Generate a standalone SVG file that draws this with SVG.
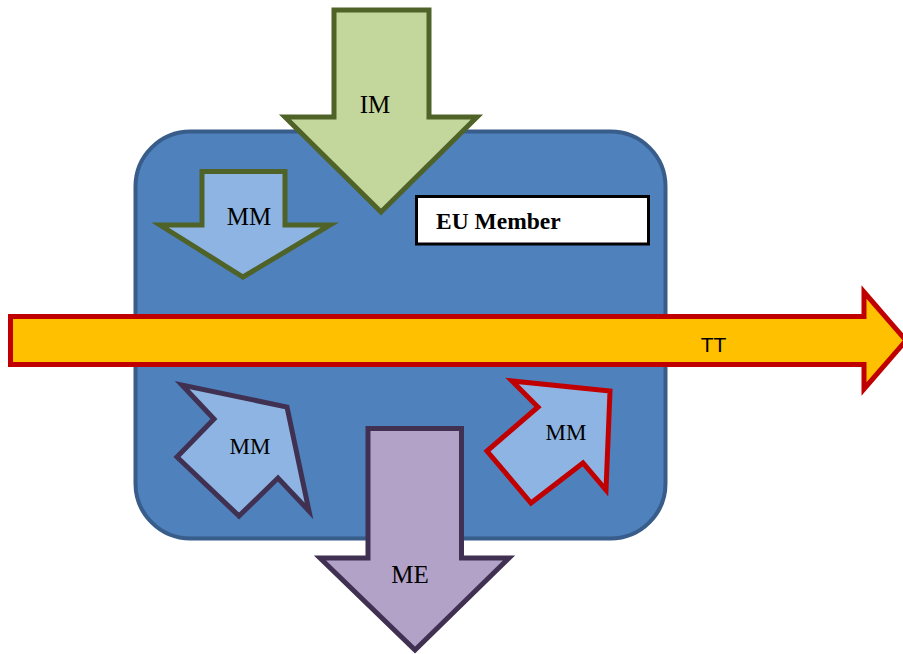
<svg xmlns="http://www.w3.org/2000/svg" width="903" height="654" viewBox="0 0 903 654">
<style>
.serif{font-family:"Liberation Serif","Times New Roman",serif;fill:#000;text-anchor:middle}
.green{stroke:#4F6228;stroke-width:5;stroke-linejoin:miter}
.purple{stroke:#403152;stroke-width:5;stroke-linejoin:miter}
.red{stroke:#C00000;stroke-width:5;stroke-linejoin:miter}
.light{fill:#8EB4E3}
</style>
<rect width="903" height="654" fill="#fff"/>
<g id="eu-member">
<rect x="135.5" y="131.5" width="530" height="407" rx="55" ry="55" fill="#4F81BD" stroke="#385D8A" stroke-width="4"/>
</g>
<g id="connectors">
<g id="im">
<polygon class="green" fill="#C3D69B" points="334,10 429,10 429,117 477,117 381,212 285,117 334,117"/>
<text class="serif" x="375" y="113" font-size="25">IM</text>
</g>
<g id="tt">
<polygon class="red" fill="#FFC000" points="10.5,316.5 864,316.5 864,292 906,340.5 864,389 864,364.5 10.5,364.5"/>
<text x="713.5" y="352" font-size="21" font-family="Liberation Sans, Arial, sans-serif" text-anchor="middle">TT</text>
</g>
<g id="me">
<polygon class="purple" fill="#B3A2C7" points="368,428.5 461.5,428.5 461.5,558 509,558 415,650 320,558 368,558"/>
<text class="serif" x="410" y="583" font-size="25">ME</text>
</g>
</g>
<g id="mm-top">
<polygon class="green light" points="202,171.5 285,171.5 285,225 330,225 243,277 160,225 202,225"/>
<text class="serif" x="249" y="225" font-size="25">MM</text>
</g>
<g id="mm-left">
<polygon class="purple light" points="287,407 309,511 278,478 239,516 177,457 214,419 182,385"/>
<text class="serif" x="250" y="454" font-size="23">MM</text>
</g>
<g id="mm-right">
<polygon class="red light" points="610,391 606,490 583,463 531,503 487,451 538,407 512,381"/>
<text class="serif" x="566" y="440" font-size="23">MM</text>
</g>
<g id="eu-label">
<rect x="416.5" y="196.5" width="232" height="47.5" fill="#fff" stroke="#000" stroke-width="3"/>
<text x="436" y="229" font-size="23.5" font-weight="bold" font-family="Liberation Serif, Times New Roman, serif">EU Member</text>
</g>
</svg>
